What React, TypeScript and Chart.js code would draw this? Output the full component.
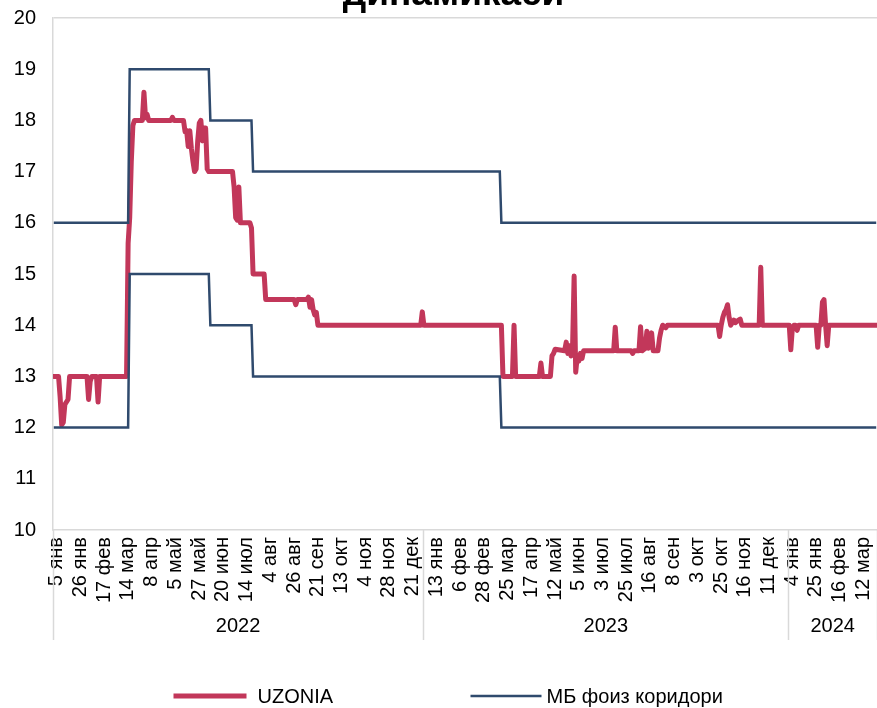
import React, { useEffect, useRef } from 'react';
import { Chart, registerables } from 'chart.js';

Chart.register(...registerables);

const FONT = "'Liberation Sans', Arial, Helvetica, sans-serif";
const RED = '#C2375A';
const NAVY = '#2F4A6D';
const AXIS_GRAY = '#D9D9D9';

// x-axis: trading-day index, labelled every 15th observation
const tickIdx = [0, 15, 30, 45, 60, 75, 90, 105, 120, 135, 150, 165, 180, 195, 210, 225,
  240, 255, 270, 285, 300, 315, 330, 345, 360, 375, 390, 405, 420, 435, 450,
  465, 480, 495, 510];
const tickLabels = ['5 янв', '26 янв', '17 фев', '14 мар', '8 апр', '5 май', '27 май', '20 июн',
  '14 июл', '4 авг', '26 авг', '21 сен', '13 окт', '4 ноя', '28 ноя', '21 дек',
  '13 янв', '6 фев', '28 фев', '25 мар', '17 апр', '12 май', '5 июн', '3 июл',
  '25 июл', '16 авг', '8 сен', '3 окт', '25 окт', '16 ноя', '11 дек',
  '4 янв', '25 янв', '16 фев', '12 мар'];
const yearLabels = ['2022', '2023', '2024'];
const yearBounds = [-0.5, 233.5, 464.5, 520.5];

// UZONIA (breakpoints: day index -> rate, %)
const uzoniaIdx = [0, 3, 4, 5, 6, 7, 8, 9, 10, 21, 22, 23, 24, 27, 28, 29, 46, 47, 48, 49, 50, 51,
  56, 57, 58, 59, 60, 74, 75, 76, 82, 83, 84, 85, 86, 87, 88, 89, 90, 91, 92, 93, 94, 95, 96, 97, 98,
  113, 114, 115, 116, 117, 118, 124, 125, 126, 133, 134, 152, 153, 154, 160, 161, 162, 163, 164, 165, 166, 167,
  232, 233, 234, 283, 284, 290, 291, 292, 307, 308, 309, 314, 315, 316, 317,
  323, 324, 325, 326, 327, 328, 329, 330, 331, 332, 333, 334, 335, 354, 355, 356, 365, 366, 367,
  370, 371, 372, 374, 375, 376, 377, 378, 379, 382, 383, 384, 385, 387, 388,
  420, 421, 422, 423, 424, 425, 426, 427, 428, 429, 430, 431, 432, 433, 434, 435,
  446, 447, 448, 465, 466, 467, 468, 469, 470, 471, 482, 483, 484, 485, 486, 487, 488, 489, 490, 520];
const uzoniaVal = [13.0, 13.0, 12.6, 12.05, 12.1, 12.45, 12.5, 12.55, 13.0, 13.0, 12.55, 12.9, 13.0, 13.0, 12.5, 13.0, 13.0, 15.6, 16.1, 17.2, 17.9, 18.0,
  18.0, 18.55, 18.05, 18.12, 18.0, 18.0, 18.06, 18.0, 18.0, 17.78, 17.8, 17.49, 17.8, 17.45, 17.2, 17.0, 17.05, 17.6, 17.95, 18.0, 17.6, 17.85, 17.85, 17.05, 17.0,
  17.0, 16.7, 16.1, 16.05, 16.7, 16.0, 16.0, 15.9, 15.0, 15.0, 14.5, 14.5, 14.4, 14.5, 14.5, 14.55, 14.35, 14.5, 14.3, 14.2, 14.25, 14.0,
  14.0, 14.26, 14.0, 14.0, 13.0, 13.0, 14.0, 13.0, 13.0, 13.26, 13.0, 13.0, 13.4, 13.45, 13.53,
  13.5, 13.67, 13.45, 13.6, 13.4, 13.55, 14.96, 13.08, 13.4, 13.3, 13.45, 13.35, 13.5, 13.5, 13.96, 13.5, 13.5, 13.45, 13.5,
  13.5, 13.97, 13.5, 13.55, 13.88, 13.55, 13.6, 13.85, 13.5, 13.5, 13.75, 13.9, 14.0, 13.95, 14.0,
  14.0, 13.78, 14.0, 14.15, 14.25, 14.3, 14.4, 14.15, 14.0, 14.05, 14.1, 14.05, 14.08, 14.1, 14.12, 14.0,
  14.0, 15.13, 14.0, 14.0, 13.52, 13.95, 14.0, 14.0, 13.9, 14.0, 14.0, 13.57, 14.0, 14.0, 14.45, 14.5, 14.0, 13.6, 14.0, 14.0];

// Central bank interest-rate corridor
const corridorIdx = [0, 47, 48, 98, 99, 125, 126, 282, 283, 520];
const corridorUpper = [16, 16, 19, 19, 18, 18, 17, 17, 16, 16];
const corridorLower = [12, 12, 15, 15, 14, 14, 13, 13, 12, 12];

const titleText = 'динамикаси';
const legendNames = ['UZONIA', 'МБ фоиз коридори'];

// the original figure is centred slightly right of the canvas centre
const CENTER_SHIFT = 30;

const decorPlugin = {
  id: 'decor',
  afterDraw(chart: any) {
    const { ctx, chartArea, scales } = chart;
    const xs = scales.x;
    const base = chartArea.bottom;
    const cx = (CENTER_SHIFT + chart.width) / 2;
    ctx.save();
    // title (upper part is outside the picture)
    ctx.fillStyle = '#000';
    ctx.font = `bold 37px ${FONT}`;
    ctx.textAlign = 'center';
    ctx.textBaseline = 'alphabetic';
    ctx.fillText(titleText, cx, chartArea.top - 13);
    // year group separators
    ctx.strokeStyle = AXIS_GRAY;
    ctx.lineWidth = 1.5;
    yearBounds.forEach((b) => {
      const px = Math.round(xs.getPixelForValue(b)) + 0.5;
      ctx.beginPath();
      ctx.moveTo(px, base);
      ctx.lineTo(px, base + 110);
      ctx.stroke();
    });
    // year labels
    ctx.font = `20px ${FONT}`;
    ctx.textBaseline = 'middle';
    yearLabels.forEach((y, i) => {
      const c = (xs.getPixelForValue(yearBounds[i]) + xs.getPixelForValue(yearBounds[i + 1])) / 2;
      ctx.fillText(y, c, base + 96);
    });
    // legend
    const ly = base + 166;
    ctx.lineCap = 'butt';
    ctx.strokeStyle = RED;
    ctx.lineWidth = 5;
    ctx.beginPath();
    ctx.moveTo(cx - 280, ly);
    ctx.lineTo(cx - 207, ly);
    ctx.stroke();
    ctx.strokeStyle = NAVY;
    ctx.lineWidth = 2.5;
    ctx.beginPath();
    ctx.moveTo(cx + 17, ly);
    ctx.lineTo(cx + 88, ly);
    ctx.stroke();
    ctx.textAlign = 'left';
    ctx.fillText(legendNames[0], cx - 196, ly + 1);
    ctx.fillText(legendNames[1], cx + 93, ly + 1);
    ctx.restore();
  },
};

export default function App() {
  const ref = useRef<HTMLCanvasElement | null>(null);

  useEffect(() => {
    if (!ref.current) return;
    const chart = new Chart(ref.current, {
      type: 'line',
      data: {
        datasets: [
          {
            label: legendNames[1],
            data: corridorIdx.map((x, i) => ({ x, y: corridorUpper[i] })),
            borderColor: NAVY,
            backgroundColor: NAVY,
            borderWidth: 2.5,
            pointRadius: 0,
            tension: 0,
          },
          {
            label: legendNames[1] + ' ',
            data: corridorIdx.map((x, i) => ({ x, y: corridorLower[i] })),
            borderColor: NAVY,
            backgroundColor: NAVY,
            borderWidth: 2.5,
            pointRadius: 0,
            tension: 0,
          },
          {
            label: legendNames[0],
            data: uzoniaIdx.map((x, i) => ({ x, y: uzoniaVal[i] })),
            borderColor: RED,
            backgroundColor: RED,
            borderWidth: 5,
            pointRadius: 0,
            tension: 0,
            borderJoinStyle: 'round',
            borderCapStyle: 'round',
          },
        ],
      },
      options: {
        animation: false,
        responsive: true,
        maintainAspectRatio: false,
        layout: { padding: { left: 0, right: 0, top: 48, bottom: 0 } },
        plugins: {
          legend: { display: false },
          tooltip: { enabled: false },
          title: { display: false },
        },
        scales: {
          x: {
            type: 'linear',
            min: -0.5,
            max: 520.5,
            afterBuildTicks: (scale: any) => {
              scale.ticks = tickIdx.map((v) => ({ value: v }));
            },
            afterFit: (scale: any) => {
              scale.height = 178;
              scale.paddingLeft = 0;
              scale.paddingRight = 0;
            },
            ticks: {
              autoSkip: false,
              minRotation: 90,
              maxRotation: 90,
              padding: 7,
              labelOffset: 3,
              color: '#000',
              font: { family: FONT, size: 20 },
              callback: (v: any) => {
                const i = tickIdx.indexOf(Number(v));
                return i >= 0 ? tickLabels[i] : '';
              },
            },
            grid: { display: false, drawTicks: false },
            border: { display: true, color: AXIS_GRAY, width: 1.5 },
          },
          y: {
            min: 10,
            max: 20,
            afterFit: (scale: any) => {
              scale.width = 53;
            },
            ticks: {
              stepSize: 1,
              padding: 17,
              color: '#000',
              font: { family: FONT, size: 20 },
            },
            grid: {
              drawTicks: false,
              color: (c: any) => (c.tick && c.tick.value === 20 ? AXIS_GRAY : 'rgba(0,0,0,0)'),
              lineWidth: 1.5,
            },
            border: { display: true, color: AXIS_GRAY, width: 1.5 },
          },
        },
      },
      plugins: [decorPlugin],
    });
    return () => chart.destroy();
  }, []);

  return (
    <div
      style={{
        position: 'fixed',
        left: 0,
        top: -30,
        width: 877,
        height: 738,
        background: '#fff',
      }}
    >
      <canvas ref={ref} />
    </div>
  );
}
